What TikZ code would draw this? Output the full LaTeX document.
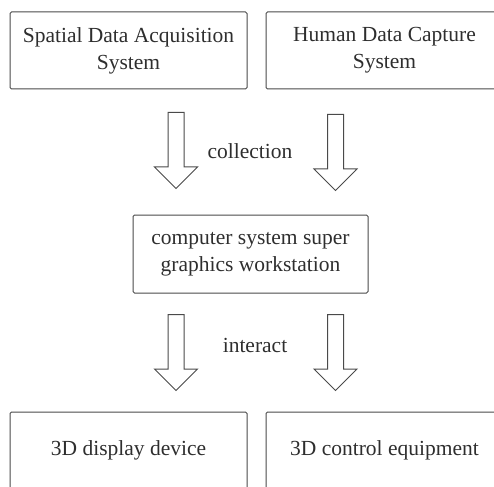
\documentclass[tikz,border=0pt]{standalone}
\usepackage{fontspec}
\setmainfont{Liberation Serif}
\usepackage{tikz}
\usetikzlibrary{shapes,arrows,positioning,calc}
\definecolor{linegray}{HTML}{4A4A4A}
\definecolor{textgray}{HTML}{2E2E2E}
\tikzset{
	block/.style = {draw=linegray, line width=1pt, rounded corners=1.5pt, rectangle, align=center, text=textgray, minimum height=77pt, minimum width=237pt, font=\fontsize{21.5}{27}\selectfont},
	flow/.style = {single arrow, draw=linegray, line width=1pt, rotate=-90, anchor=tail, inner sep=7.5pt, minimum height=76pt, minimum width=42pt, single arrow head extend=13.5pt, single arrow head indent=0pt},
	label/.style = {text=textgray, font=\fontsize{21.5}{27}\selectfont}
}

\begin{document}
\begin{tikzpicture}[x=1pt, y=-1pt]
		\useasboundingbox (0,0) rectangle (494,486);
		\clip (0,0) rectangle (494,486);
		\node [block] (spatial) at (128.5,50.5) {Spatial Data Acquisition\\System};
		\node [block, right=18pt of spatial] (human) {Human Data Capture\\System};
		\node [block, minimum width=235pt, minimum height=78pt] (workstation) at (250.5,254) {computer system super\\graphics workstation};
		\node [block] (display) at (128.5,450.5) {3D display device};
		\node [block, right=18pt of display] (control) {3D control equipment};
		\node [flow] (collect1) at (176,112) {};
		\node [flow] (collect2) at (335.5,114) {};
		\node [flow] (interact1) at (176,314) {};
		\node [flow] (interact2) at (335.5,314) {};
		\node [label] (collection) at (250,151) {collection};
		\node [label] (interact) at (255,345) {interact};
	    \end{tikzpicture}
\end{document}
